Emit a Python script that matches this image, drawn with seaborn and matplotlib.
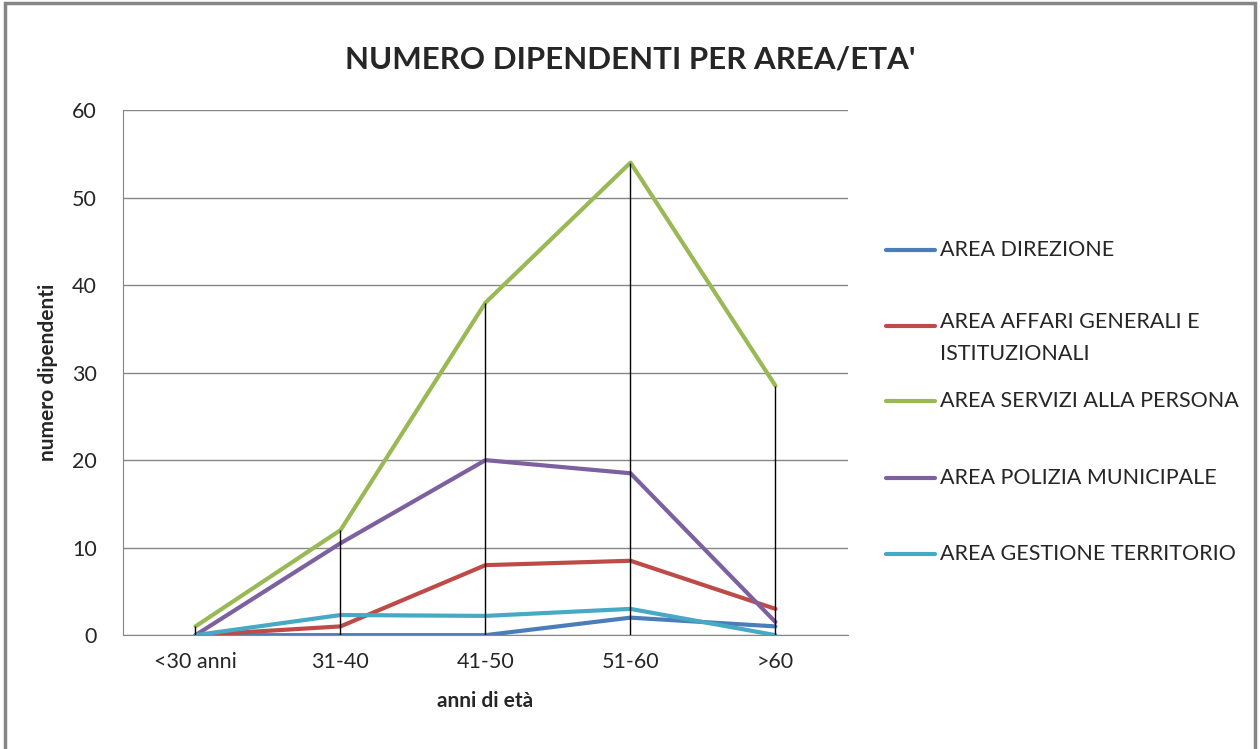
import numpy as np
import pandas as pd
import seaborn as sns
import matplotlib.pyplot as plt
from matplotlib.lines import Line2D
from matplotlib.patches import Rectangle

# -----------------------------
# Data
# -----------------------------
eta = ["<30 anni", "31-40", "41-50", "51-60", ">60"]

direzione = [0, 0, 0, 2, 1]
affari_generali = [0, 1, 8, 8.5, 3]
servizi_persona = [1, 12, 38, 54, 28.5]
polizia = [0, 10.5, 20, 18.5, 1.5]
gestione_territorio = [0, 2.3, 2.2, 3, 0]

aree = ["AREA DIREZIONE", "AREA AFFARI GENERALI E\nISTITUZIONALI",
        "AREA SERVIZI ALLA PERSONA", "AREA POLIZIA MUNICIPALE",
        "AREA GESTIONE TERRITORIO"]
colori = ["#4A7EBB", "#BE4B48", "#98B954", "#7D60A0", "#46AAC5"]

serie = [direzione, affari_generali, servizi_persona, polizia, gestione_territorio]

df = pd.DataFrame({
    "eta": eta * len(aree),
    "area": np.repeat(aree, len(eta)),
    "dipendenti": np.concatenate(serie),
})

# -----------------------------
# Plot
# -----------------------------
sns.set_style("white")
plt.rcParams["font.family"] = ["Lato", "DejaVu Sans"]

fig = plt.figure(figsize=(12.6, 7.49), dpi=100)
ax = fig.add_axes([0.0976, 0.152, 0.5754, 0.701])

sns.lineplot(data=df, x="eta", y="dipendenti", hue="area", palette=colori,
             linewidth=3, legend=False, ax=ax, zorder=3)

# drop lines (Excel style) from highest value to the axis
massimi = df.groupby("eta", sort=False)["dipendenti"].max()
ax.vlines(range(len(eta)), 0, massimi.values, color="black", linewidth=1, zorder=4)

ax.set_xlim(-0.5, len(eta) - 0.5)
ax.set_ylim(0, 60)
ax.set_yticks(range(0, 61, 10))
ax.yaxis.grid(True, color="#868686", linewidth=1)
ax.set_axisbelow(True)

for s in ["top", "right"]:
    ax.spines[s].set_visible(False)
ax.spines["left"].set_color("#868686")
ax.spines["bottom"].set_color("#868686")
ax.tick_params(axis="y", length=7, color="#868686", labelsize=15.5, pad=12)
ax.tick_params(axis="x", length=0, labelsize=15.5, pad=12)

ax.set_xlabel("anni di età", fontsize=15, fontweight="bold", labelpad=14)
ax.set_ylabel("numero dipendenti", fontsize=15, fontweight="bold", labelpad=10)

fig.text(0.5, 0.92, "NUMERO DIPENDENTI PER AREA/ETA'", ha="center", va="center",
         fontsize=22.5, fontweight="bold")

# legend on the right (Excel layout)
leg_y = [0.666, 0.565, 0.464, 0.362, 0.261]
for nome, col, y in zip(aree, colori, leg_y):
    fig.add_artist(Line2D([0.703, 0.742], [y, y], color=col, linewidth=3,
                          transform=fig.transFigure))
    if "\n" in nome:
        fig.text(0.746, y + 0.019, nome, va="top", fontsize=15.5, linespacing=1.8)
    else:
        fig.text(0.746, y, nome, va="center", fontsize=15.5)

# chart frame
fig.add_artist(Rectangle((0.004, -0.05), 0.992, 1.046, fill=False,
                         edgecolor="#868686", linewidth=2.5,
                         transform=fig.transFigure))

fig.savefig("out.png", dpi=100)
